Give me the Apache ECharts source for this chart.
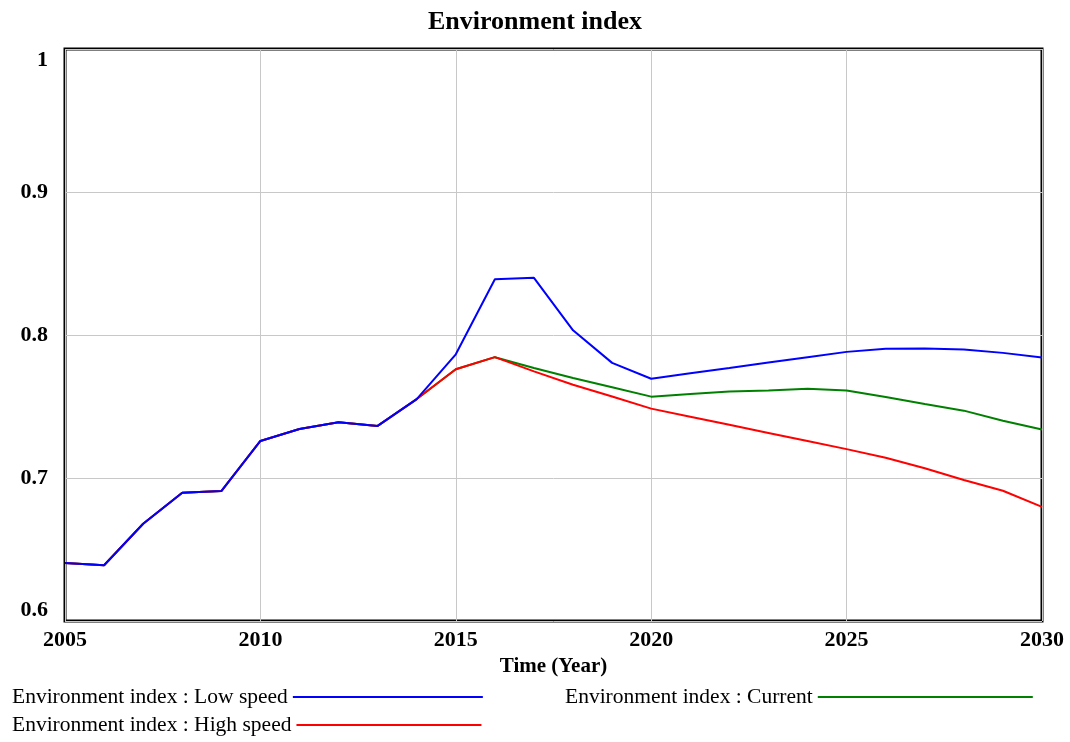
<!DOCTYPE html>
<html><head><meta charset="utf-8">
<script src="https://cdn.jsdelivr.net/npm/echarts@6/dist/echarts.min.js"></script>
<style>html,body{margin:0;padding:0;background:#fff}#c{width:1070px;height:742px}</style>
</head><body><div id="c"></div>
<script>
const years = [2005,2006,2007,2008,2009,2010,2011,2012,2013,2014,2015,2016,2017,2018,2019,2020,2021,2022,2023,2024,2025,2026,2027,2028,2029,2030];
const lowSpeed = [0.6406,0.639,0.668,0.6897,0.6909,0.7259,0.7343,0.739,0.7364,0.7552,0.7865,0.839,0.840,0.8033,0.7805,0.7694,0.7732,0.7769,0.7807,0.7845,0.7882,0.7904,0.7906,0.7899,0.7875,0.7842];
const current = [0.6406,0.639,0.668,0.6897,0.6909,0.7259,0.7343,0.739,0.7364,0.7552,0.776,0.7845,0.7769,0.7699,0.7635,0.7569,0.7588,0.7605,0.7612,0.7624,0.7612,0.7567,0.7518,0.7471,0.740,0.7339];
const highSpeed = [0.6406,0.639,0.668,0.6897,0.6909,0.7259,0.7343,0.739,0.7364,0.7552,0.776,0.7845,0.7746,0.7652,0.757,0.7485,0.7428,0.7372,0.7315,0.7259,0.7202,0.7141,0.7068,0.6986,0.6911,0.6798];
const yTicks = [0.6,0.7,0.8,0.9,1];
const names = ['Environment index : Low speed','Environment index : Current','Environment index : High speed'];
const colors = ['#0000ff','#008000','#ff0000'];

const pairs = arr => years.map((y,i)=>[y,arr[i]]);
const font = 'Liberation Serif';
const chart = echarts.init(document.getElementById('c'));
const legendText = {fontFamily:font,fontSize:21.5,color:'#000'};
chart.setOption({
  animation:false,
  title:{text:'Environment index',left:'center',top:4,textStyle:{fontFamily:font,fontSize:26,fontWeight:'bold',color:'#000'}},
  grid:{left:65,right:28,top:49,bottom:121,show:true,borderColor:'#000',borderWidth:3,backgroundColor:'transparent'},
  xAxis:{type:'value',min:2005,max:2030,interval:5,
    name:'Time (Year)',nameLocation:'middle',nameGap:32,
    nameTextStyle:{fontFamily:font,fontSize:21,fontWeight:'bold',color:'#000'},
    axisLine:{show:false},axisTick:{show:false},
    axisLabel:{fontFamily:font,fontSize:22,fontWeight:'bold',color:'#000',margin:8,
      formatter:v=>String(v)},
    splitLine:{show:true,lineStyle:{color:'#c8c8c8',width:1}}},
  yAxis:{type:'value',min:0.6,max:1,interval:0.1,
    axisLine:{show:false},axisTick:{show:false},
    axisLabel:{fontFamily:font,fontSize:22,fontWeight:'bold',color:'#000',margin:17,
      verticalAlignMaxLabel:'top',verticalAlignMinLabel:'bottom',
      formatter:v=>{const t=yTicks.find(x=>Math.abs(x-v)<1e-6);return t===undefined?'':String(t);}},
    splitLine:{show:true,lineStyle:{color:'#c8c8c8',width:1}}},
  legend:[
    {data:[names[0]],left:12,top:686,align:'right',icon:'rect',itemWidth:190,itemHeight:2,itemGap:0,textStyle:legendText,padding:0},
    {data:[names[1]],left:565,top:686,align:'right',icon:'rect',itemWidth:215,itemHeight:2,itemGap:0,textStyle:legendText,padding:0},
    {data:[names[2]],left:12,top:714,align:'right',icon:'rect',itemWidth:185,itemHeight:2,itemGap:0,textStyle:legendText,padding:0}
  ],
  series:[
    {name:names[1],type:'line',data:pairs(current),showSymbol:false,z:2,lineStyle:{color:colors[1],width:2},itemStyle:{color:colors[1]}},
    {name:names[2],type:'line',data:pairs(highSpeed),showSymbol:false,z:3,lineStyle:{color:colors[2],width:2},itemStyle:{color:colors[2]}},
    {name:names[0],type:'line',data:pairs(lowSpeed),showSymbol:false,z:4,lineStyle:{color:colors[0],width:2},itemStyle:{color:colors[0]}}
  ]
});
</script></body></html>
